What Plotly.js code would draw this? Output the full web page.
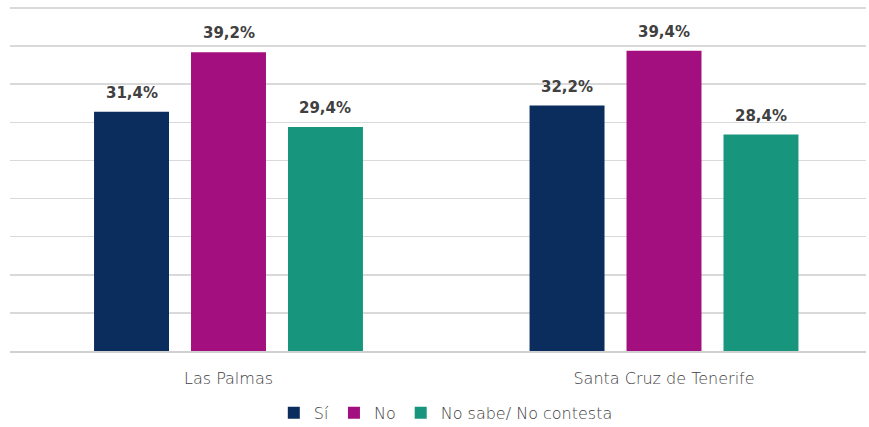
<!DOCTYPE html>
<html>
<head>
<meta charset="utf-8">
<script src="https://cdn.plot.ly/plotly-3.0.1.min.js"></script>
<style>html,body{margin:0;padding:0;background:#fff;}#chart{width:869px;height:427px;}</style>
</head>
<body>
<div id="chart"></div>
<script>
const categories = ["Las Palmas", "Santa Cruz de Tenerife"];
const seriesNames = ["Sí", "No", "No sabe/ No contesta"];
const si = [31.4, 32.2];
const no = [39.2, 39.4];
const nsnc = [29.4, 28.4];
const colors = ["#0b2d5e", "#a30f7e", "#17967d"];

const seriesValues = [si, no, nsnc];
const fmt = v => v.toFixed(1).replace('.', ',') + '%';

const traces = seriesValues.map((vals, k) => ({
  type: 'bar',
  name: seriesNames[k],
  x: [0, 1],
  y: vals,
  marker: {color: colors[k]},
  hoverinfo: 'skip'
}));

const slotOffset = 0.2227;
const annotations = [];
seriesValues.forEach((vals, k) => {
  vals.forEach((v, i) => {
    annotations.push({
      x: i + (k - 1) * slotOffset,
      y: v,
      xref: 'x', yref: 'y',
      text: '<b>' + fmt(v) + '</b>',
      showarrow: false,
      yanchor: 'bottom',
      yshift: 8,
      font: {family: '"DejaVu Sans", sans-serif', size: 15, color: '#404040'}
    });
  });
});

const lightFont = {family: '"DejaVu Sans", sans-serif', size: 16, color: '#3f3f3f', weight: 200};

const layout = {
  width: 869, height: 427,
  margin: {l: 10, r: 3, t: 6, b: 76},
  paper_bgcolor: '#fff', plot_bgcolor: '#fff',
  barmode: 'group',
  bargap: 0.332,
  bargroupgap: 0.227,
  showlegend: true,
  legend: {
    orientation: 'h', xref: 'container', yref: 'container',
    x: 0.513, xanchor: 'center', y: 0.033, yanchor: 'middle',
    font: lightFont,
    itemwidth: 30, traceorder: 'normal'
  },
  xaxis: {
    type: 'linear',
    range: [-0.5017, 1.4638],
    tickvals: [0, 1], ticktext: categories,
    ticks: 'outside', ticklen: 12, tickcolor: 'rgba(0,0,0,0)',
    showgrid: false, zeroline: false,
    showline: true, linecolor: '#d0d0d0', linewidth: 1.5,
    tickfont: lightFont
  },
  yaxis: {
    range: [0, 45.26], tickvals: [0,5,10,15,20,25,30,35,40,45],
    showticklabels: false, ticks: '',
    showgrid: true, gridcolor: '#d9d9d9', gridwidth: 1.5,
    zeroline: false, showline: false
  },
  annotations: annotations,
  font: {family: '"DejaVu Sans", sans-serif'}
};

Plotly.newPlot('chart', traces, layout, {displayModeBar: false, staticPlot: true});
</script>
</body>
</html>
